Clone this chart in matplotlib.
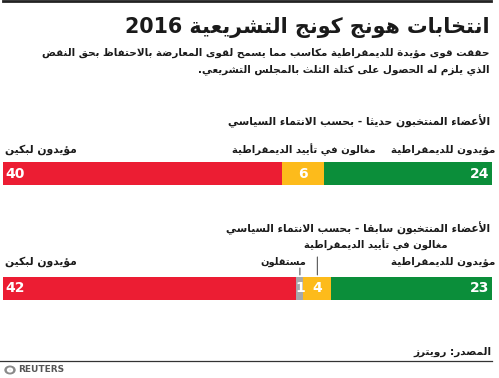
import matplotlib
matplotlib.use("Agg")
import matplotlib.pyplot as plt
from matplotlib.patches import Circle, Wedge

# الخط الذي يحتوي على أشكال الحروف العربية
plt.rcParams['font.family'] = ['DejaVu Sans']

# النصوص والبيانات
titulo = "انتخابات هونج كونج التشريعية 2016"
subtitulo = ["حققت قوى مؤيدة للديمقراطية مكاسب مما يسمح لقوى المعارضة بالاحتفاظ بحق النقض",
             "الذي يلزم له الحصول على كتلة الثلث بالمجلس التشريعي."]
cabecalho_novos = "الأعضاء المنتخبون حديثا - بحسب الانتماء السياسي"
cabecalho_antigos = "الأعضاء المنتخبون سابقا - بحسب الانتماء السياسي"
fonte = "المصدر: رويترز"

# ordem da direita para a esquerda
categorias_novos = ["مؤيدون للديمقراطية", "مغالون في تأييد الديمقراطية", "مؤيدون لبكين"]
valores_novos = [24, 6, 40]
categorias_antigos = ["مؤيدون للديمقراطية", "مغالون في تأييد الديمقراطية", "مستقلون", "مؤيدون لبكين"]
valores_antigos = [23, 4, 1, 42]

cores = {"مؤيدون للديمقراطية": "#0b8e3a", "مغالون في تأييد الديمقراطية": "#fdbb1b",
         "مستقلون": "#a6a8ab", "مؤيدون لبكين": "#ec1d33"}

# largura (px) aproximada de cada texto, para ajustar o tamanho da fonte
larguras = {titulo: 365, subtitulo[0]: 450, cabecalho_novos: 265,
            cabecalho_antigos: 265, fonte: 78, "مؤيدون للديمقراطية": 105,
            "مغالون في تأييد الديمقراطية": 145, "مؤيدون لبكين": 72, "مستقلون": 46}

# ---- reshaper simples (matplotlib nao faz a juncao das letras arabes)
DUPLO = {'ئ': 0xFE89, 'ب': 0xFE8F, 'ت': 0xFE95, 'ث': 0xFE99, 'ج': 0xFE9D, 'ح': 0xFEA1,
         'خ': 0xFEA5, 'س': 0xFEB1, 'ش': 0xFEB5, 'ص': 0xFEB9, 'ض': 0xFEBD, 'ط': 0xFEC1,
         'ظ': 0xFEC5, 'ع': 0xFEC9, 'غ': 0xFECD, 'ف': 0xFED1, 'ق': 0xFED5, 'ك': 0xFED9,
         'ل': 0xFEDD, 'م': 0xFEE1, 'ن': 0xFEE5, 'ه': 0xFEE9, 'ي': 0xFEF1}
DIREITA = {'آ': 0xFE81, 'أ': 0xFE83, 'ؤ': 0xFE85, 'إ': 0xFE87, 'ا': 0xFE8D, 'ة': 0xFE93,
           'د': 0xFEA9, 'ذ': 0xFEAB, 'ر': 0xFEAD, 'ز': 0xFEAF, 'و': 0xFEED, 'ى': 0xFEEF}
LAMALEF = {'آ': 0xFEF5, 'أ': 0xFEF7, 'إ': 0xFEF9, 'ا': 0xFEFB}


def arabe(texto):
    tokens = []
    i = 0
    while i < len(texto):
        c = texto[i]
        if c == 'ل' and i + 1 < len(texto) and texto[i + 1] in LAMALEF:
            tokens.append(('R', LAMALEF[texto[i + 1]]))
            i += 2
            continue
        if c in DUPLO:
            tokens.append(('D', DUPLO[c]))
        elif c in DIREITA:
            tokens.append(('R', DIREITA[c]))
        elif c == 'ء':
            tokens.append(('N', 0xFE80))
        else:
            tokens.append(('X', c))
        i += 1
    saida = []
    for k, (tipo, b) in enumerate(tokens):
        ant = k > 0 and tokens[k - 1][0] == 'D'
        prox = k + 1 < len(tokens) and tokens[k + 1][0] in ('D', 'R')
        if tipo == 'D':
            if ant and prox:
                saida.append(chr(b + 3))
            elif ant:
                saida.append(chr(b + 1))
            elif prox:
                saida.append(chr(b + 2))
            else:
                saida.append(chr(b))
        elif tipo == 'R':
            saida.append(chr(b + 1) if ant else chr(b))
        elif tipo == 'N':
            saida.append(chr(b))
        else:
            saida.append(b)
    # ordem visual: inverte, mas mantem os numeros da esquerda para a direita
    vis = ''.join(saida)[::-1]
    res, num = '', ''
    for c in vis:
        if c.isdigit():
            num += c
        else:
            res += num[::-1] + c
            num = ''
    return res + num[::-1]


W, H = 499, 378
fig = plt.figure(figsize=(W / 100, H / 100), dpi=100)
renderer = fig.canvas.get_renderer()
textos = []


def ajusta(t, original):
    # guarda o texto para ajustar a fonte pela largura do original
    textos.append((t, larguras[original]))
    return t


def fx(x):
    return x / W


def fy(y):
    return 1 - y / H


# linhas do topo e do rodape
fig.add_artist(plt.Line2D([fx(3), fx(491)], [fy(1), fy(1)], color="#222222", lw=2))
fig.add_artist(plt.Line2D([fx(0), fx(492)], [fy(361), fy(361)], color="#333333", lw=0.9))

estilo = dict(fontweight='bold', color="#1a1a1a", fontsize=9)
ajusta(fig.text(fx(490), fy(27), arabe(titulo), ha='right', va='center', **estilo), titulo)
sub1 = ajusta(fig.text(fx(489), fy(53), arabe(subtitulo[0]), ha='right', va='center', **estilo), subtitulo[0])
sub2 = fig.text(fx(489), fy(70), arabe(subtitulo[1]), ha='right', va='center', **estilo)
ajusta(fig.text(fx(490), fy(121), arabe(cabecalho_novos), ha='right', va='center', **estilo), cabecalho_novos)
ajusta(fig.text(fx(490), fy(228), arabe(cabecalho_antigos), ha='right', va='center', **estilo), cabecalho_antigos)
ajusta(fig.text(fx(492), fy(352), arabe(fonte), ha='right', va='center', **estilo), fonte)


def barra(topo, categorias, valores, rotulos):
    ax = fig.add_axes([fx(3), fy(topo + 23), fx(489), 23 / H])
    total = sum(valores)
    esquerda = 0
    for cat, v, rot in zip(categorias, valores, rotulos):
        ax.barh(0, v, left=esquerda, height=1, color=cores[cat], edgecolor='none')
        meio = esquerda + v / 2
        if esquerda == 0:
            ax.text(esquerda + 0.35, 0, str(v), ha='right', va='center', color='white', fontsize=10, fontweight='bold')
        elif esquerda + v == total:
            ax.text(total - 0.35, 0, str(v), ha='left', va='center', color='white', fontsize=10, fontweight='bold')
        else:
            ax.text(meio, 0, str(v), ha='center', va='center', color='white', fontsize=10, fontweight='bold')
        # rotulo da categoria acima da barra
        modo, dy, dx = rot[:3]
        if modo == 'right':
            xy, ha = (esquerda, 0.5), 'right'
        elif modo == 'left':
            xy, ha = (total, 0.5), 'left'
        elif modo == 'center':
            xy, ha = (meio, 0.5), 'center'
        else:
            xy, ha = (meio, 0.5), modo.split('-')[1]
            # linha guia
            ax.annotate('', xy=xy, xytext=(0, rot[3]), textcoords='offset pixels',
                        arrowprops=dict(arrowstyle='-', color="#555555", lw=0.8, shrinkA=0, shrinkB=1.5))
        ajusta(ax.annotate(arabe(cat), xy=xy, xytext=(dx, dy), textcoords='offset pixels',
                           ha=ha, va='center', **estilo), cat)
        esquerda += v
    ax.set_xlim(0, total)
    ax.set_ylim(-0.5, 0.5)
    ax.invert_xaxis()
    ax.axis('off')


barra(162, categorias_novos, valores_novos,
      [('right', 12, 3), ('center', 12, 0), ('left', 12, 2)])
barra(277, categorias_antigos, valores_antigos,
      [('right', 15, 3), ('guia-left', 32, -13, 20), ('guia-right', 15, 6, 9), ('left', 15, 2)])

# ajusta o tamanho das fontes pela largura
for t, alvo in textos:
    larg = t.get_window_extent(renderer).width
    t.set_fontsize(t.get_fontsize() * alvo / larg)
sub2.set_fontsize(sub1.get_fontsize())

# logotipo Reuters
fig.add_artist(Circle((fx(10), fy(370)), 5 / W, transform=fig.transFigure, color="#8a8a8a"))
fig.add_artist(Wedge((fx(10), fy(370)), 2.5 / W, 0, 360, width=1.2 / W, transform=fig.transFigure, color="white"))
fig.text(fx(18), fy(370), "REUTERS", ha='left', va='center', fontsize=6.5, fontweight='bold', color="#555555")

fig.savefig("out.png", dpi=100)
